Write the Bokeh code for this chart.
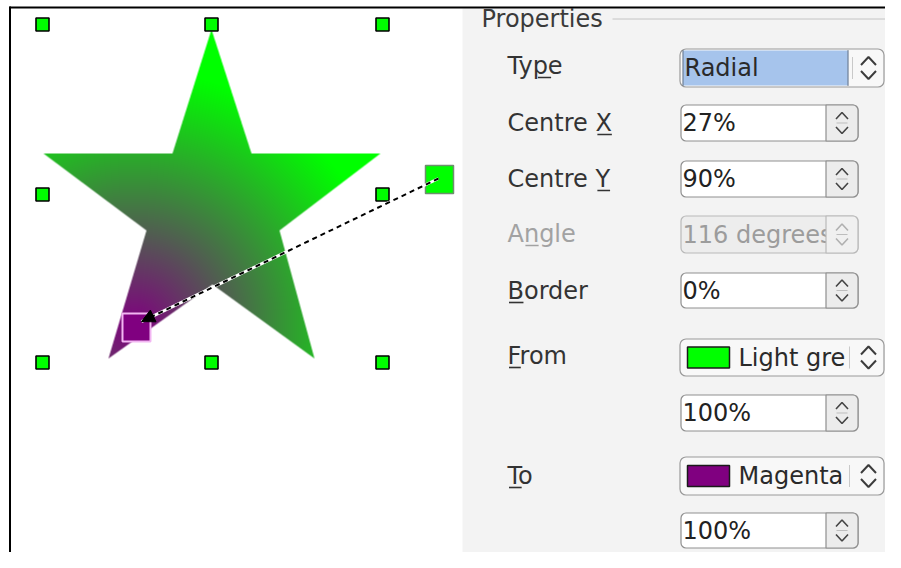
import numpy as np
from bokeh.plotting import figure
from bokeh.models import Range1d, Arrow, NormalHead
from bokeh.core.properties import value
from bokeh.embed import file_html
from bokeh.resources import INLINE

# ---------------- data ----------------
# star outline (screen pixels)
star_x = [211, 251, 380, 279, 314, 212, 108, 146, 43, 172]
star_y = [29, 153, 153, 230, 358, 284, 358, 230, 153, 153]
# gradient settings shown in the dialog
gradient_type = "Radial"
centre_x_pct = 27
centre_y_pct = 90
border_pct = 0
from_rgb = (0, 255, 0)      # Light green
to_rgb = (128, 0, 128)      # Magenta
gradient_radius_px = 255
from_name = "Light gre"
to_name = "Magenta"
angle_text = "116 degrees"
from_intensity = "100%"
to_intensity = "100%"
# selection handles around the star
handle_x = [42, 211, 382, 42, 382, 42, 211, 382]
handle_y = [24, 24, 24, 194, 194, 362, 362, 362]
# end handle of the gradient arrow
grad_handle = (439, 179)

labels = ["Type", "Centre X", "Centre Y", "Angle", "Border", "From", "To"]
mnemonic_index = [2, 7, 7, 1, 0, 0, 0]
label_enabled = [True, True, True, False, True, True, True]
spin_values = [f"{centre_x_pct}%", f"{centre_y_pct}%", angle_text,
               f"{border_pct}%", from_intensity, to_intensity]
spin_enabled = [True, True, False, True, True, True]

# ---------------- layout (screen pixels) ----------------
FONT = value("DejaVu Sans")
FS = 24
label_x = 507
label_cy = [65, 122, 178, 233, 290, 355, 475]
combo_top = [48, 338, 456]
combo_bot = [87, 376, 495]
combo_sep = [852, 849, 849]
combo_right = 884
spin_top = [104, 160, 215, 272, 394, 512]
spin_bot = [141, 197, 253, 308, 431, 548]

# DejaVu Sans advance widths (em) for underline placement
ADV = {'T': .611, 'y': .592, 'p': .635, 'e': .615, 'C': .698, 'n': .634, 't': .392,
       'r': .411, ' ': .318, 'X': .686, 'Y': .612, 'A': .684, 'g': .635, 'l': .278,
       'B': .686, 'o': .612, 'd': .635, 'F': .575, 'm': .974}

p = figure(width=885, height=552, x_range=Range1d(0, 885), y_range=Range1d(552, 0),
           min_border=0, toolbar_location=None, output_backend="svg",
           x_axis_type=None, y_axis_type=None)
p.outline_line_color = None
p.xgrid.visible = False
p.ygrid.visible = False
p.background_fill_color = "white"

# right panel background
p.quad(left=462, right=900, top=8, bottom=570, fill_color="#f3f3f3", line_color=None)

# frame lines
p.segment(x0=[9], y0=[7], x1=[900], y1=[7], line_color="black", line_width=2)
p.segment(x0=[9.5], y0=[6], x1=[9.5], y1=[570], line_color="black", line_width=2)

# ---------------- star with radial gradient ----------------
def inside_poly(X, Y, px, py):
    res = np.zeros(X.shape, dtype=bool)
    n = len(px)
    j = n - 1
    for i in range(n):
        xi, yi, xj, yj = px[i], py[i], px[j], py[j]
        dy = (yj - yi) if yj != yi else 1e-9
        cond = ((yi > Y) != (yj > Y)) & (X < (xj - xi) * (Y - yi) / dy + xi)
        res ^= cond
        j = i
    return res

bx0, bx1 = min(star_x), max(star_x)
by0, by1 = min(star_y), max(star_y)
ix0, iy0 = bx0 - 2, by0 - 2
W, H = (bx1 - bx0) + 4, (by1 - by0) + 4
ss = 4
xs = ix0 + (np.arange(W * ss) + 0.5) / ss
ys = iy0 + (np.arange(H * ss) + 0.5) / ss
XS, YS = np.meshgrid(xs, ys)
cov = inside_poly(XS, YS, star_x, star_y).reshape(H, ss, W, ss).mean(axis=(1, 3))

cx = bx0 + centre_x_pct / 100 * (bx1 - bx0)
cy = by0 + centre_y_pct / 100 * (by1 - by0)
R = gradient_radius_px
XC, YC = np.meshgrid(ix0 + np.arange(W) + 0.5, iy0 + np.arange(H) + 0.5)
d = np.hypot(XC - cx, YC - cy)
t = np.clip(d / (R * (1 - border_pct / 100)), 0, 1)
img = np.zeros((H, W), dtype=np.uint32)
view = img.view(dtype=np.uint8).reshape((H, W, 4))
for k in range(3):
    view[:, :, k] = np.round(to_rgb[k] * (1 - t) + from_rgb[k] * t).astype(np.uint8)
view[:, :, 3] = np.round(cov * 255).astype(np.uint8)
p.image_rgba(image=[img], x=ix0, y=iy0, dw=W, dh=H)

# selection handles
p.rect(x=handle_x, y=handle_y, width=13, height=13, fill_color="#00ff00",
       line_color="black", line_width=1.6)

# gradient handles
p.rect(x=[grad_handle[0]], y=[grad_handle[1]], width=28, height=28, fill_color="#00ff00",
       line_color="#6e8f6e", line_width=1.5)
p.rect(x=[cx + 2], y=[cy + 2], width=28, height=28, fill_color="#800080",
       line_color="#f2b6f2", line_width=2)

# dashed gradient line with arrow
lx = [grad_handle[0] - 1, cx + 7]
ly = [grad_handle[1] - 1, cy - 4]
p.line(lx, ly, line_color="white", line_width=3)
p.line(lx, ly, line_color="black", line_width=2, line_dash="5 4")
p.add_layout(Arrow(end=NormalHead(size=13, fill_color="black", line_color="black"),
                   x_start=lx[0], y_start=ly[0], x_end=lx[1], y_end=ly[1], line_alpha=0))

# ---------------- properties panel ----------------
p.text(x=[481], y=[18], text=["Properties"], text_font=FONT, text_font_size=f"{FS}px",
       text_color="#3a3a3a", text_baseline="middle")
p.segment(x0=[612], y0=[18.5], x1=[900], y1=[18.5], line_color="#c4c4c4", line_width=1)

for lab, mi, en, cyv in zip(labels, mnemonic_index, label_enabled, label_cy):
    col = "#333333" if en else "#a2a2a2"
    p.text(x=[label_x], y=[cyv], text=[lab], text_font=FONT, text_font_size=f"{FS}px",
           text_color=col, text_baseline="middle")
    off = sum(ADV[c] for c in lab[:mi]) * FS
    w = ADV[lab[mi]] * FS
    p.segment(x0=[label_x + off + 1.5], y0=[cyv + 12], x1=[label_x + off + w - 0.5],
              y1=[cyv + 12], line_color=col, line_width=1.6)

def chevrons(xc, c, hw, a, b, col, lw):
    p.multi_line(xs=[[xc - hw, xc, xc + hw], [xc - hw, xc, xc + hw]],
                 ys=[[c - a, c - b, c - a], [c + a, c + b, c + a]],
                 line_color=col, line_width=lw)

# combo boxes
combo_texts = [gradient_type, from_name, to_name]
for i, (tp, bt, sp) in enumerate(zip(combo_top, combo_bot, combo_sep)):
    c = (tp + bt) / 2
    p.quad(left=679.5, right=combo_right - 0.5, top=tp + 0.5, bottom=bt - 0.5,
           fill_color="#f8f8f8", line_color="#9a9a9a", line_width=1.2, border_radius=6)
    if i == 0:
        p.quad(left=682, right=848, top=tp + 2, bottom=bt - 2, fill_color="#a6c4ec",
               line_color=None)
        p.segment(x0=[682.5, 847.5], y0=[tp + 2, tp + 2], x1=[682.5, 847.5], y1=[bt - 2, bt - 2],
                  line_color="#202020", line_width=1, line_dash="1 1")
        tx = 684
    else:
        sw_col = "#00ff00" if i == 1 else "#800080"
        p.quad(left=687, right=729, top=c - 10.5, bottom=c + 10.5, fill_color=sw_col,
               line_color="#1a1a1a", line_width=1.5)
        tx = 738
    p.segment(x0=[sp], y0=[c - 11], x1=[sp], y1=[c + 11], line_color="#c9c9c9", line_width=1)
    p.text(x=[tx], y=[c], text=[combo_texts[i]], text_font=FONT, text_font_size=f"{FS}px",
           text_color="#2a2a2a", text_baseline="middle")
    chevrons(868, c, 7.5, 3, 11, "#3c3c3c", 2)

# spin boxes
for val, en, tp, bt in zip(spin_values, spin_enabled, spin_top, spin_bot):
    c = (tp + bt) / 2
    fill = "white" if en else "#ededed"
    p.quad(left=680.5, right=857.5, top=tp + 0.5, bottom=bt - 0.5, fill_color=fill,
           line_color="#8f8f8f" if en else "#b9b9b9", line_width=1.2, border_radius=5)
    p.text(x=[682], y=[c], text=[val], text_font=FONT, text_font_size=f"{FS}px",
           text_color="#222222" if en else "#9c9c9c", text_baseline="middle")
    p.quad(left=825.5, right=857.5, top=tp + 0.5, bottom=bt - 0.5,
           fill_color="#ececec" if en else "#f0f0f0",
           line_color="#8f8f8f" if en else "#b9b9b9", line_width=1.2,
           border_radius=(0, 5, 5, 0))
    p.segment(x0=[836], y0=[c], x1=[847], y1=[c], line_color="#bdbdbd", line_width=1)
    chevrons(841.5, c, 6, 4, 10.5, "#444444" if en else "#b0b0b0", 1.6)

open("out.html", "w").write(file_html(p, INLINE))
